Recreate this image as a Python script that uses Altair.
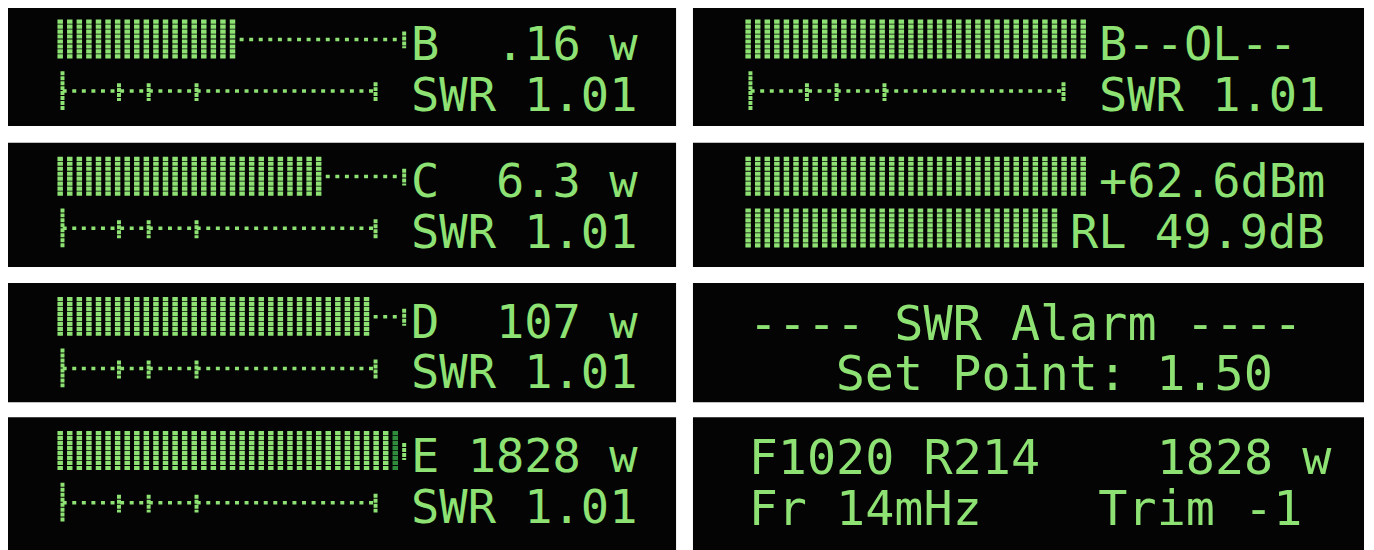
import altair as alt
import pandas as pd

# ---------------- data ----------------
PANEL_NAMES = ["B", "C", "D", "E", "OL", "dBm", "Alarm", "Status"]
PANEL_COL = [0, 0, 0, 0, 1, 1, 1, 1]
PANEL_ROW = [0, 1, 2, 3, 0, 1, 2, 3]
LINE1_TEXT = ["B  .16 w", "C  6.3 w", "D  107 w", "E 1828 w",
              "B--OL--", "+62.6dBm", "---- SWR Alarm ----", "F1020 R214    1828 w"]
LINE2_TEXT = ["SWR 1.01", "SWR 1.01", "SWR 1.01", "SWR 1.01",
              "SWR 1.01", "RL 49.9dB", "Set Point: 1.50", "Fr 14mHz    Trim -1"]
LINE1_START_CELL = [12, 12, 12, 12, 12, 12, 0, 0]
LINE2_START_CELL = [12, 12, 12, 12, 12, 11, 3, 0]
POWER_BARS = [19, 28, 33, 35, 36, 36, 0, 0]      # lit bar segments, line 1
POWER_DIM = [0, 0, 0, 1, 0, 0, 0, 0]             # dim segment after the lit ones
POWER_SCALE = [True, True, True, True, False, False, False, False]
RL_BARS = [0, 0, 0, 0, 0, 33, 0, 0]              # bar segments, line 2
SWR_SCALE = [True, True, True, True, True, False, False, False]
SWR_TICKS = [0.5, 6.4, 9.5, 14.5, 33.2]          # tick places in segment units
SWR_TICK_KIND = ["major", "minor", "minor", "minor", "end"]

# ---------------- layout (image pixels) ----------------
COL_X0 = [5, 697]
PANEL_W = 675
ROW_Y0 = [4, 142, 283, 418]
ROW_Y1 = [125, 267, 403, 560]
SEG_OFF = 53
SEG_PITCH = 9.63
CELL_PITCH = 29.2
GREEN = "#8ee274"
DIM = "#2e8c3c"
BG = "#040404"
FONT = "DejaVu Sans Mono"
NBSP = "\u00a0"

panels, segs, dots, ticks, texts = [], [], [], [], []
for p, name in enumerate(PANEL_NAMES):
    x0 = COL_X0[PANEL_COL[p]]
    top = ROW_Y0[PANEL_ROW[p]]
    panels.append(dict(panel=name, x=x0, x2=x0 + PANEL_W, y=top, y2=ROW_Y1[PANEL_ROW[p]]))
    sx = x0 + SEG_OFF
    n = POWER_BARS[p]
    for i in range(n):
        segs.append(dict(panel=name, x=sx + i * SEG_PITCH + 2.5, y=top + 14, y2=top + 54, shade="lit"))
    for i in range(n, n + POWER_DIM[p]):
        segs.append(dict(panel=name, x=sx + i * SEG_PITCH + 2.5, y=top + 14, y2=top + 54, shade="dim"))
    for i in range(RL_BARS[p]):
        segs.append(dict(panel=name, x=sx + i * SEG_PITCH + 2.5, y=top + 66, y2=top + 106, shade="lit"))
    if POWER_SCALE[p]:
        m = n + POWER_DIM[p]
        if m < 36:
            dots.append(dict(panel=name, x=sx + m * SEG_PITCH, x2=x0 + 398, y=top + 34))
        ticks.append(dict(panel=name, x=x0 + 401.5, y=top + 26, y2=top + 43))
    if SWR_SCALE[p]:
        dots.append(dict(panel=name, x=x0 + 58, x2=x0 + 372, y=top + 86))
        for t, kind in zip(SWR_TICKS, SWR_TICK_KIND):
            tx = sx + t * SEG_PITCH
            if kind == "major":
                ticks.append(dict(panel=name, x=tx, y=top + 66, y2=top + 106))
            elif kind == "minor":
                ticks.append(dict(panel=name, x=tx, y=top + 78, y2=top + 96))
            else:
                ticks.append(dict(panel=name, x=tx, y=top + 77, y2=top + 97))
    big = LINE1_START_CELL[p] == 0
    fs = 48.7 if big else 47.3
    for line, (txt, cell) in enumerate(((LINE1_TEXT[p], LINE1_START_CELL[p]),
                                        (LINE2_TEXT[p], LINE2_START_CELL[p]))):
        if big:
            tx = sx + 3 + cell * CELL_PITCH
        else:
            tx = sx + cell * CELL_PITCH + 5
        base = (57 if big else 55) if line == 0 else (108 if big else 106)
        texts.append(dict(panel=name, x=tx, y=top + base, t=txt.replace(" ", NBSP), fs=fs))

df_panels = pd.DataFrame(panels)
df_segs = pd.DataFrame(segs)
df_dots = pd.DataFrame(dots)
df_ticks = pd.DataFrame(ticks)
df_texts = pd.DataFrame(texts)

xs = alt.Scale(domain=[8, 1374], nice=False, zero=False)
ys = alt.Scale(domain=[8, 550], nice=False, zero=False, reverse=True)
X = lambda f: alt.X(f, type="quantitative", scale=xs, axis=None)
Y = lambda f: alt.Y(f, type="quantitative", scale=ys, axis=None)

panel_layer = alt.Chart(df_panels).mark_rect(color=BG).encode(
    x=X("x"), x2="x2", y=Y("y"), y2="y2")

seg_layer = alt.Chart(df_segs).mark_rule(strokeWidth=5.5, strokeDash=[4.2, 0.8], strokeCap="butt").encode(
    x=X("x"), y=Y("y"), y2="y2",
    color=alt.Color("shade:N", scale=alt.Scale(domain=["lit", "dim"], range=[GREEN, DIM]), legend=None))

dot_layer = alt.Chart(df_dots).mark_rule(strokeWidth=3.5, strokeDash=[4, 5.63], strokeCap="butt", color=GREEN).encode(
    x=X("x"), x2="x2", y=Y("y"))

tick_layer = alt.Chart(df_ticks).mark_rule(strokeWidth=4, strokeDash=[4, 1], strokeCap="butt", color=GREEN).encode(
    x=X("x"), y=Y("y"), y2="y2")

text_layer = alt.Chart(df_texts).mark_text(align="left", baseline="alphabetic", font=FONT, color=GREEN).encode(
    x=X("x"), y=Y("y"), text="t:N", size=alt.Size("fs:Q", scale=None))

chart = alt.layer(panel_layer, seg_layer, dot_layer, tick_layer, text_layer).properties(
    width=1366, height=542, padding=0, autosize=alt.AutoSizeParams(type="none"), background="white"
).configure_view(stroke=None)

chart.save("out.html", embed_options={"renderer": "svg", "actions": False})
